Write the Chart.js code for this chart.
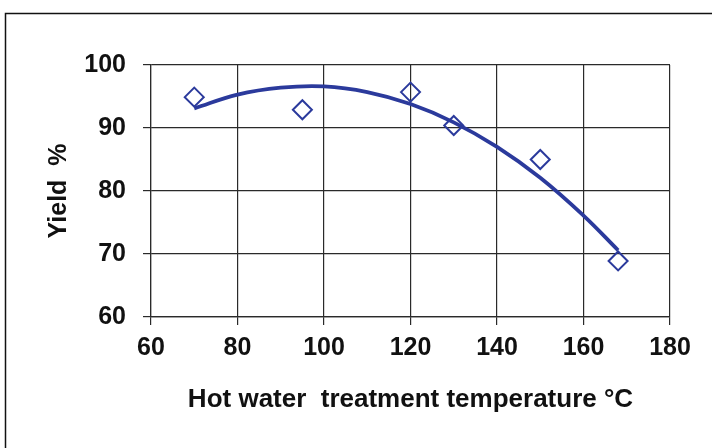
<!DOCTYPE html>
<html>
<head>
<meta charset="utf-8">
<script src="https://cdn.jsdelivr.net/npm/chart.js@4.4.1/dist/chart.umd.min.js"></script>
<style>
  html, body { margin: 0; padding: 0; background: #fff; }
  #wrap { width: 712px; height: 448px; }
</style>
</head>
<body>
<div id="wrap"><canvas id="myChart"></canvas></div>
<script>
// measured points
const temps = [70, 95, 120, 130, 150, 168];
const yields = [94.9, 92.9, 95.7, 90.4, 85.0, 68.9];

// trend curve
const trendTemps = [70, 80, 90, 100, 110, 120, 130, 140, 150, 160, 168];
const trendYields = [93.1, 95.3, 96.4, 96.6, 95.7, 93.8, 90.9, 87.0, 82.1, 76.1, 70.6];

const xTicks = [60, 80, 100, 120, 140, 160, 180];
const yTicks = [60, 70, 80, 90, 100];

const blue = "#2b3a9c";
const gridColor = "#2a2a2a";
const fontFamily = "Liberation Sans, Arial";

const frame = {
    id: "frame",
    beforeDraw: function (chart) {
        const c = chart.ctx;
        c.save();
        c.fillStyle = "#fff";
        c.fillRect(0, 0, chart.width, chart.height);
        c.strokeStyle = "#111";
        c.lineWidth = 1.5;
        c.beginPath();
        c.moveTo(5.5, chart.height);
        c.lineTo(5.5, 13.5);
        c.lineTo(chart.width, 13.5);
        c.stroke();
        c.restore();
    },
};

const ctx = document.getElementById("myChart");
new Chart(ctx, {
    type: "scatter",
    data: {
        datasets: [
            {
                label: "Yield",
                data: temps.map((t, i) => ({ x: t, y: yields[i] })),
                showLine: false,
                pointStyle: "rectRot",
                pointRadius: 9.5,
                pointBorderWidth: 2,
                pointBorderColor: blue,
                pointBackgroundColor: "rgba(0,0,0,0)",
                order: 1,
            },
            {
                label: "Trend",
                data: trendTemps.map((t, i) => ({ x: t, y: trendYields[i] })),
                showLine: true,
                pointRadius: 0,
                borderColor: blue,
                borderWidth: 3.8,
                tension: 0.4,
                order: 2,
            },
        ],
    },
    options: {
        responsive: true,
        maintainAspectRatio: false,
        animation: false,
        layout: {
            padding: { top: 65, right: 42, bottom: 0, left: 0 },
        },
        plugins: {
            legend: { display: false },
            tooltip: { enabled: false },
        },
        scales: {
            x: {
                type: "linear",
                min: 60,
                max: 180,
                afterBuildTicks: function (s) {
                    s.ticks = xTicks.map((v) => ({ value: v }));
                },
                afterFit: function (s) {
                    s.height = 131;
                },
                grid: { color: gridColor, lineWidth: 1.2, tickLength: 8 },
                border: { color: gridColor, width: 1.2 },
                ticks: {
                    color: "#111",
                    padding: 8,
                    font: { family: fontFamily, size: 25, weight: "bold" },
                },
                title: {
                    display: true,
                    text: "Hot water  treatment temperature °C",
                    color: "#111",
                    padding: { top: 0, bottom: 33 },
                    font: { family: fontFamily, size: 26, weight: "bold" },
                },
            },
            y: {
                min: 60,
                max: 100,
                afterBuildTicks: function (s) {
                    s.ticks = yTicks.map((v) => ({ value: v }));
                },
                afterFit: function (s) {
                    s.width = 151;
                },
                grid: { color: gridColor, lineWidth: 1.2, tickLength: 8 },
                border: { color: gridColor, width: 1.2 },
                ticks: {
                    color: "#111",
                    padding: 17,
                    font: { family: fontFamily, size: 25, weight: "bold" },
                },
                title: {
                    display: true,
                    text: "Yield  %",
                    color: "#111",
                    padding: { top: 44, bottom: 0 },
                    font: { family: fontFamily, size: 25, weight: "bold" },
                },
            },
        },
    },
    plugins: [frame],
});
</script>
</body>
</html>
